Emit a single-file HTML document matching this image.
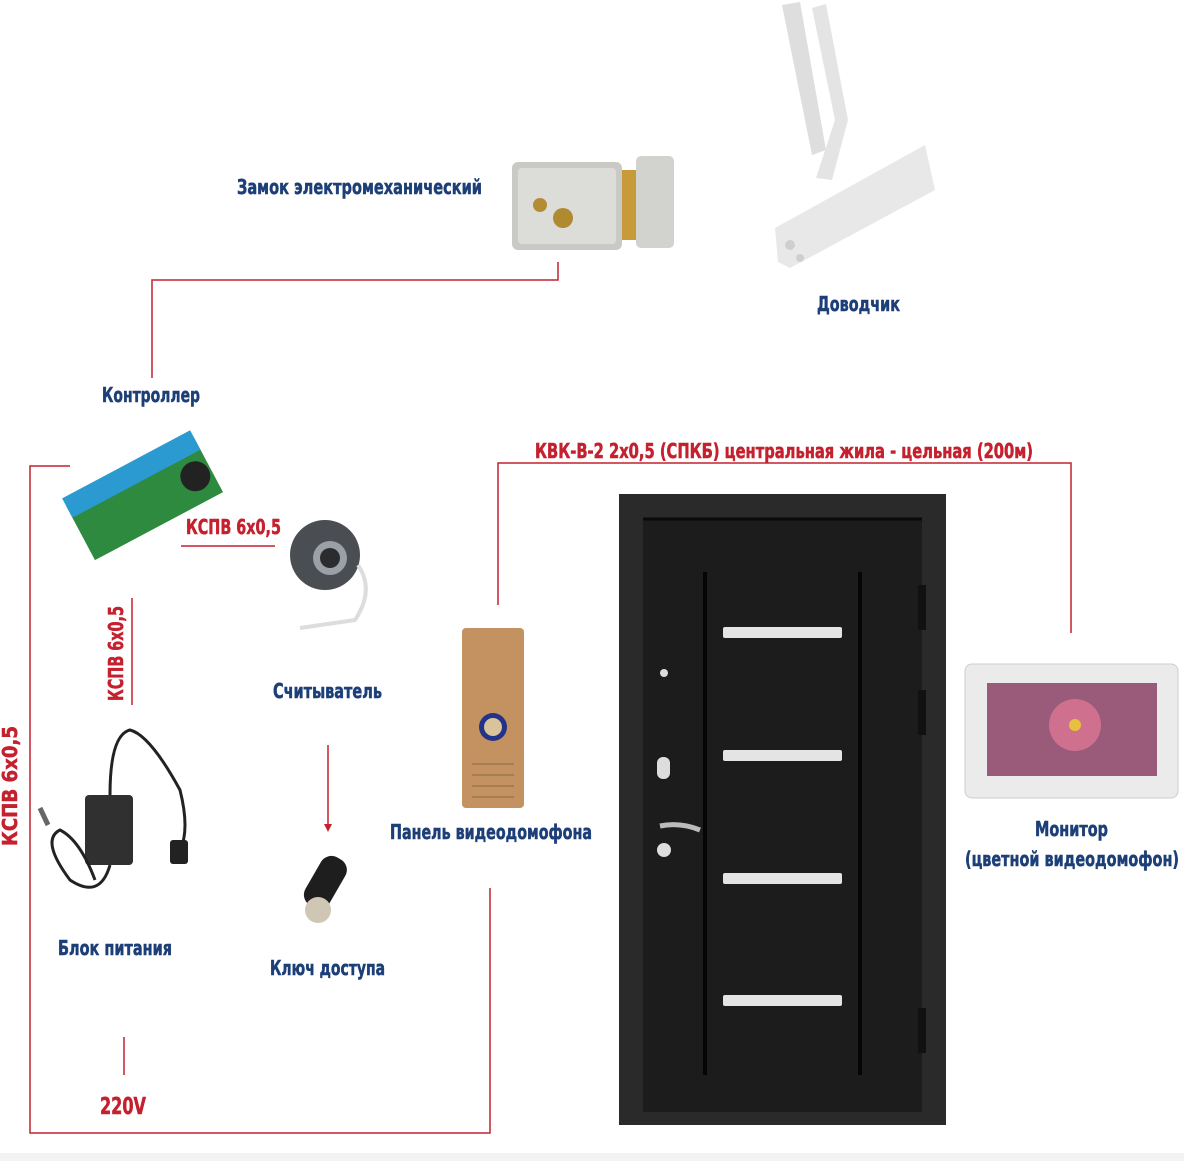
<!DOCTYPE html>
<html><head><meta charset="utf-8"><style>
html,body{margin:0;padding:0;background:#fff;}
svg{display:block;}
.b{font-family:"Liberation Sans Narrow","DejaVu Sans Condensed","Liberation Sans",sans-serif;font-weight:bold;fill:#1d3f78;stroke:#1d3f78;stroke-width:0.5;font-size:20px;}
.r{font-family:"Liberation Sans Narrow","DejaVu Sans Condensed","Liberation Sans",sans-serif;font-weight:bold;fill:#c4202e;stroke:#c4202e;stroke-width:0.5;font-size:20px;}
</style></head><body>
<svg width="1184" height="1161" viewBox="0 0 1184 1161" xmlns="http://www.w3.org/2000/svg">
<rect width="1184" height="1161" fill="#fff"/>
<rect x="0" y="1153" width="1184" height="8" fill="#f3f3f3"/>
<g stroke="#c4202e" stroke-width="1.5" fill="none">
<polyline points="558,262 558,280 152,280 152,378"/>
<polyline points="70,466 30,466 30,1133 490,1133 490,888"/>
<line x1="132" y1="598" x2="132" y2="705"/>
<line x1="124" y1="1037" x2="124" y2="1075"/>
<line x1="181" y1="546" x2="275" y2="546"/>
<line x1="328" y1="745" x2="328" y2="826"/>
<polyline points="498,605 498,463 1071,463 1071,633"/>
</g>
<polygon points="324,824 332,824 328,832" fill="#c4202e"/>
<!-- lock -->
<rect x="512" y="162" width="110" height="88" rx="6" fill="#c9c9c6"/>
<rect x="518" y="168" width="98" height="76" rx="4" fill="#dcdcd8"/>
<rect x="622" y="170" width="14" height="70" fill="#c79a3a"/>
<rect x="636" y="156" width="38" height="92" rx="5" fill="#d2d2ce"/>
<circle cx="563" cy="218" r="10" fill="#b08a30"/>
<circle cx="540" cy="205" r="7" fill="#b48c34"/>
<!-- closer -->
<polygon points="782,5 800,2 826,150 812,155" fill="#dedede"/>
<polygon points="812,8 826,4 848,120 832,180 816,178 835,120" fill="#e4e4e4"/>
<polygon points="775,228 925,145 935,190 790,268 778,262" fill="#e8e8e8"/>
<circle cx="790" cy="245" r="5" fill="#cfcfcf"/>
<circle cx="800" cy="258" r="4" fill="#cfcfcf"/>
<!-- controller -->
<g transform="rotate(-28 140 500)">
<rect x="72" y="470" width="145" height="62" fill="#2e8a3e"/>
<rect x="72" y="462" width="145" height="22" fill="#2a9ad0"/>
<circle cx="200" cy="505" r="15" fill="#222"/>
</g>
<!-- reader -->
<circle cx="325" cy="555" r="35" fill="#4a4d52"/>
<circle cx="330" cy="558" r="17" fill="#9aa0a6"/>
<circle cx="330" cy="558" r="10" fill="#2a2c30"/>
<path d="M358,565 Q375,590 355,620 L300,628" stroke="#ddd" stroke-width="4" fill="none"/>
<!-- power supply -->
<rect x="85" y="795" width="48" height="70" rx="4" fill="#303030"/>
<path d="M110,795 Q110,735 130,730 Q150,735 180,790 Q190,830 180,850" stroke="#222" stroke-width="3" fill="none"/>
<path d="M110,865 Q100,900 70,880 Q40,840 60,830 Q80,840 95,880" stroke="#222" stroke-width="3" fill="none"/>
<rect x="170" y="840" width="18" height="24" rx="3" fill="#222"/>
<line x1="48" y1="825" x2="40" y2="808" stroke="#666" stroke-width="5"/>
<!-- key -->
<g transform="rotate(30 325 885)">
<rect x="310" y="855" width="28" height="55" rx="12" fill="#1e1e1e"/>
</g>
<circle cx="318" cy="910" r="13" fill="#cfc7b4"/>
<!-- panel -->
<rect x="462" y="628" width="62" height="180" rx="4" fill="#c39260"/>
<circle cx="493" cy="727" r="14" fill="#23338a"/>
<circle cx="493" cy="727" r="9" fill="#d9c39a"/>
<g stroke="#8a6a45" stroke-width="1"><line x1="472" y1="764" x2="514" y2="764"/><line x1="472" y1="775" x2="514" y2="775"/><line x1="472" y1="786" x2="514" y2="786"/><line x1="472" y1="797" x2="514" y2="797"/></g>
<!-- door -->
<rect x="619" y="494" width="327" height="631" fill="#2a2a2a"/>
<rect x="643" y="520" width="279" height="592" fill="#1c1c1c"/>
<line x1="643" y1="519" x2="922" y2="519" stroke="#0a0a0a" stroke-width="3"/>
<line x1="705" y1="572" x2="705" y2="1075" stroke="#050505" stroke-width="4"/>
<line x1="860" y1="572" x2="860" y2="1075" stroke="#050505" stroke-width="4"/>
<g fill="#e4e4e4"><rect x="723" y="627" width="119" height="11" rx="2"/><rect x="723" y="750" width="119" height="11" rx="2"/><rect x="723" y="873" width="119" height="11" rx="2"/><rect x="723" y="995" width="119" height="11" rx="2"/></g>
<rect x="918" y="585" width="8" height="45" fill="#111"/><rect x="918" y="690" width="8" height="45" fill="#111"/><rect x="918" y="1008" width="8" height="45" fill="#111"/>
<circle cx="664" cy="673" r="4" fill="#ddd"/>
<rect x="657" y="757" width="13" height="22" rx="6" fill="#ddd"/>
<path d="M660,826 Q680,822 700,830" stroke="#bbb" stroke-width="5" fill="none"/>
<circle cx="664" cy="850" r="7" fill="#ddd"/>
<!-- monitor -->
<rect x="965" y="664" width="213" height="134" rx="7" fill="#ebebeb" stroke="#ccc"/>
<rect x="987" y="683" width="170" height="93" fill="#9a5a7a"/>
<circle cx="1075" cy="725" r="26" fill="#d0708f"/>
<circle cx="1075" cy="725" r="6" fill="#e8c040"/>
<!-- texts -->
<text class="b" x="237" y="194" textLength="245" lengthAdjust="spacingAndGlyphs">Замок электромеханический</text>
<text class="b" x="817" y="311" textLength="83" lengthAdjust="spacingAndGlyphs">Доводчик</text>
<text class="b" x="102" y="402" textLength="98" lengthAdjust="spacingAndGlyphs">Контроллер</text>
<text class="r" x="186" y="534" textLength="95" lengthAdjust="spacingAndGlyphs">КСПВ 6х0,5</text>
<text class="r" x="535" y="458" textLength="498" lengthAdjust="spacingAndGlyphs">КВК-В-2 2х0,5 (СПКБ) центральная жила - цельная (200м)</text>
<text class="r" transform="translate(123,701) rotate(-90)" textLength="95" lengthAdjust="spacingAndGlyphs">КСПВ 6х0,5</text>
<text class="r" transform="translate(17,846) rotate(-90)" textLength="120" lengthAdjust="spacingAndGlyphs">КСПВ 6х0,5</text>
<text class="b" x="273" y="698" textLength="109" lengthAdjust="spacingAndGlyphs">Считыватель</text>
<text class="b" x="390" y="839" textLength="202" lengthAdjust="spacingAndGlyphs">Панель видеодомофона</text>
<text class="b" x="1035" y="836" textLength="73" lengthAdjust="spacingAndGlyphs">Монитор</text>
<text class="b" x="965" y="866" textLength="214" lengthAdjust="spacingAndGlyphs">(цветной видеодомофон)</text>
<text class="b" x="58" y="955" textLength="114" lengthAdjust="spacingAndGlyphs">Блок питания</text>
<text class="b" x="270" y="975" textLength="115" lengthAdjust="spacingAndGlyphs">Ключ доступа</text>
<text class="r" x="100" y="1114" style="font-size:23px" textLength="46" lengthAdjust="spacingAndGlyphs">220V</text>
</svg>
</body></html>
